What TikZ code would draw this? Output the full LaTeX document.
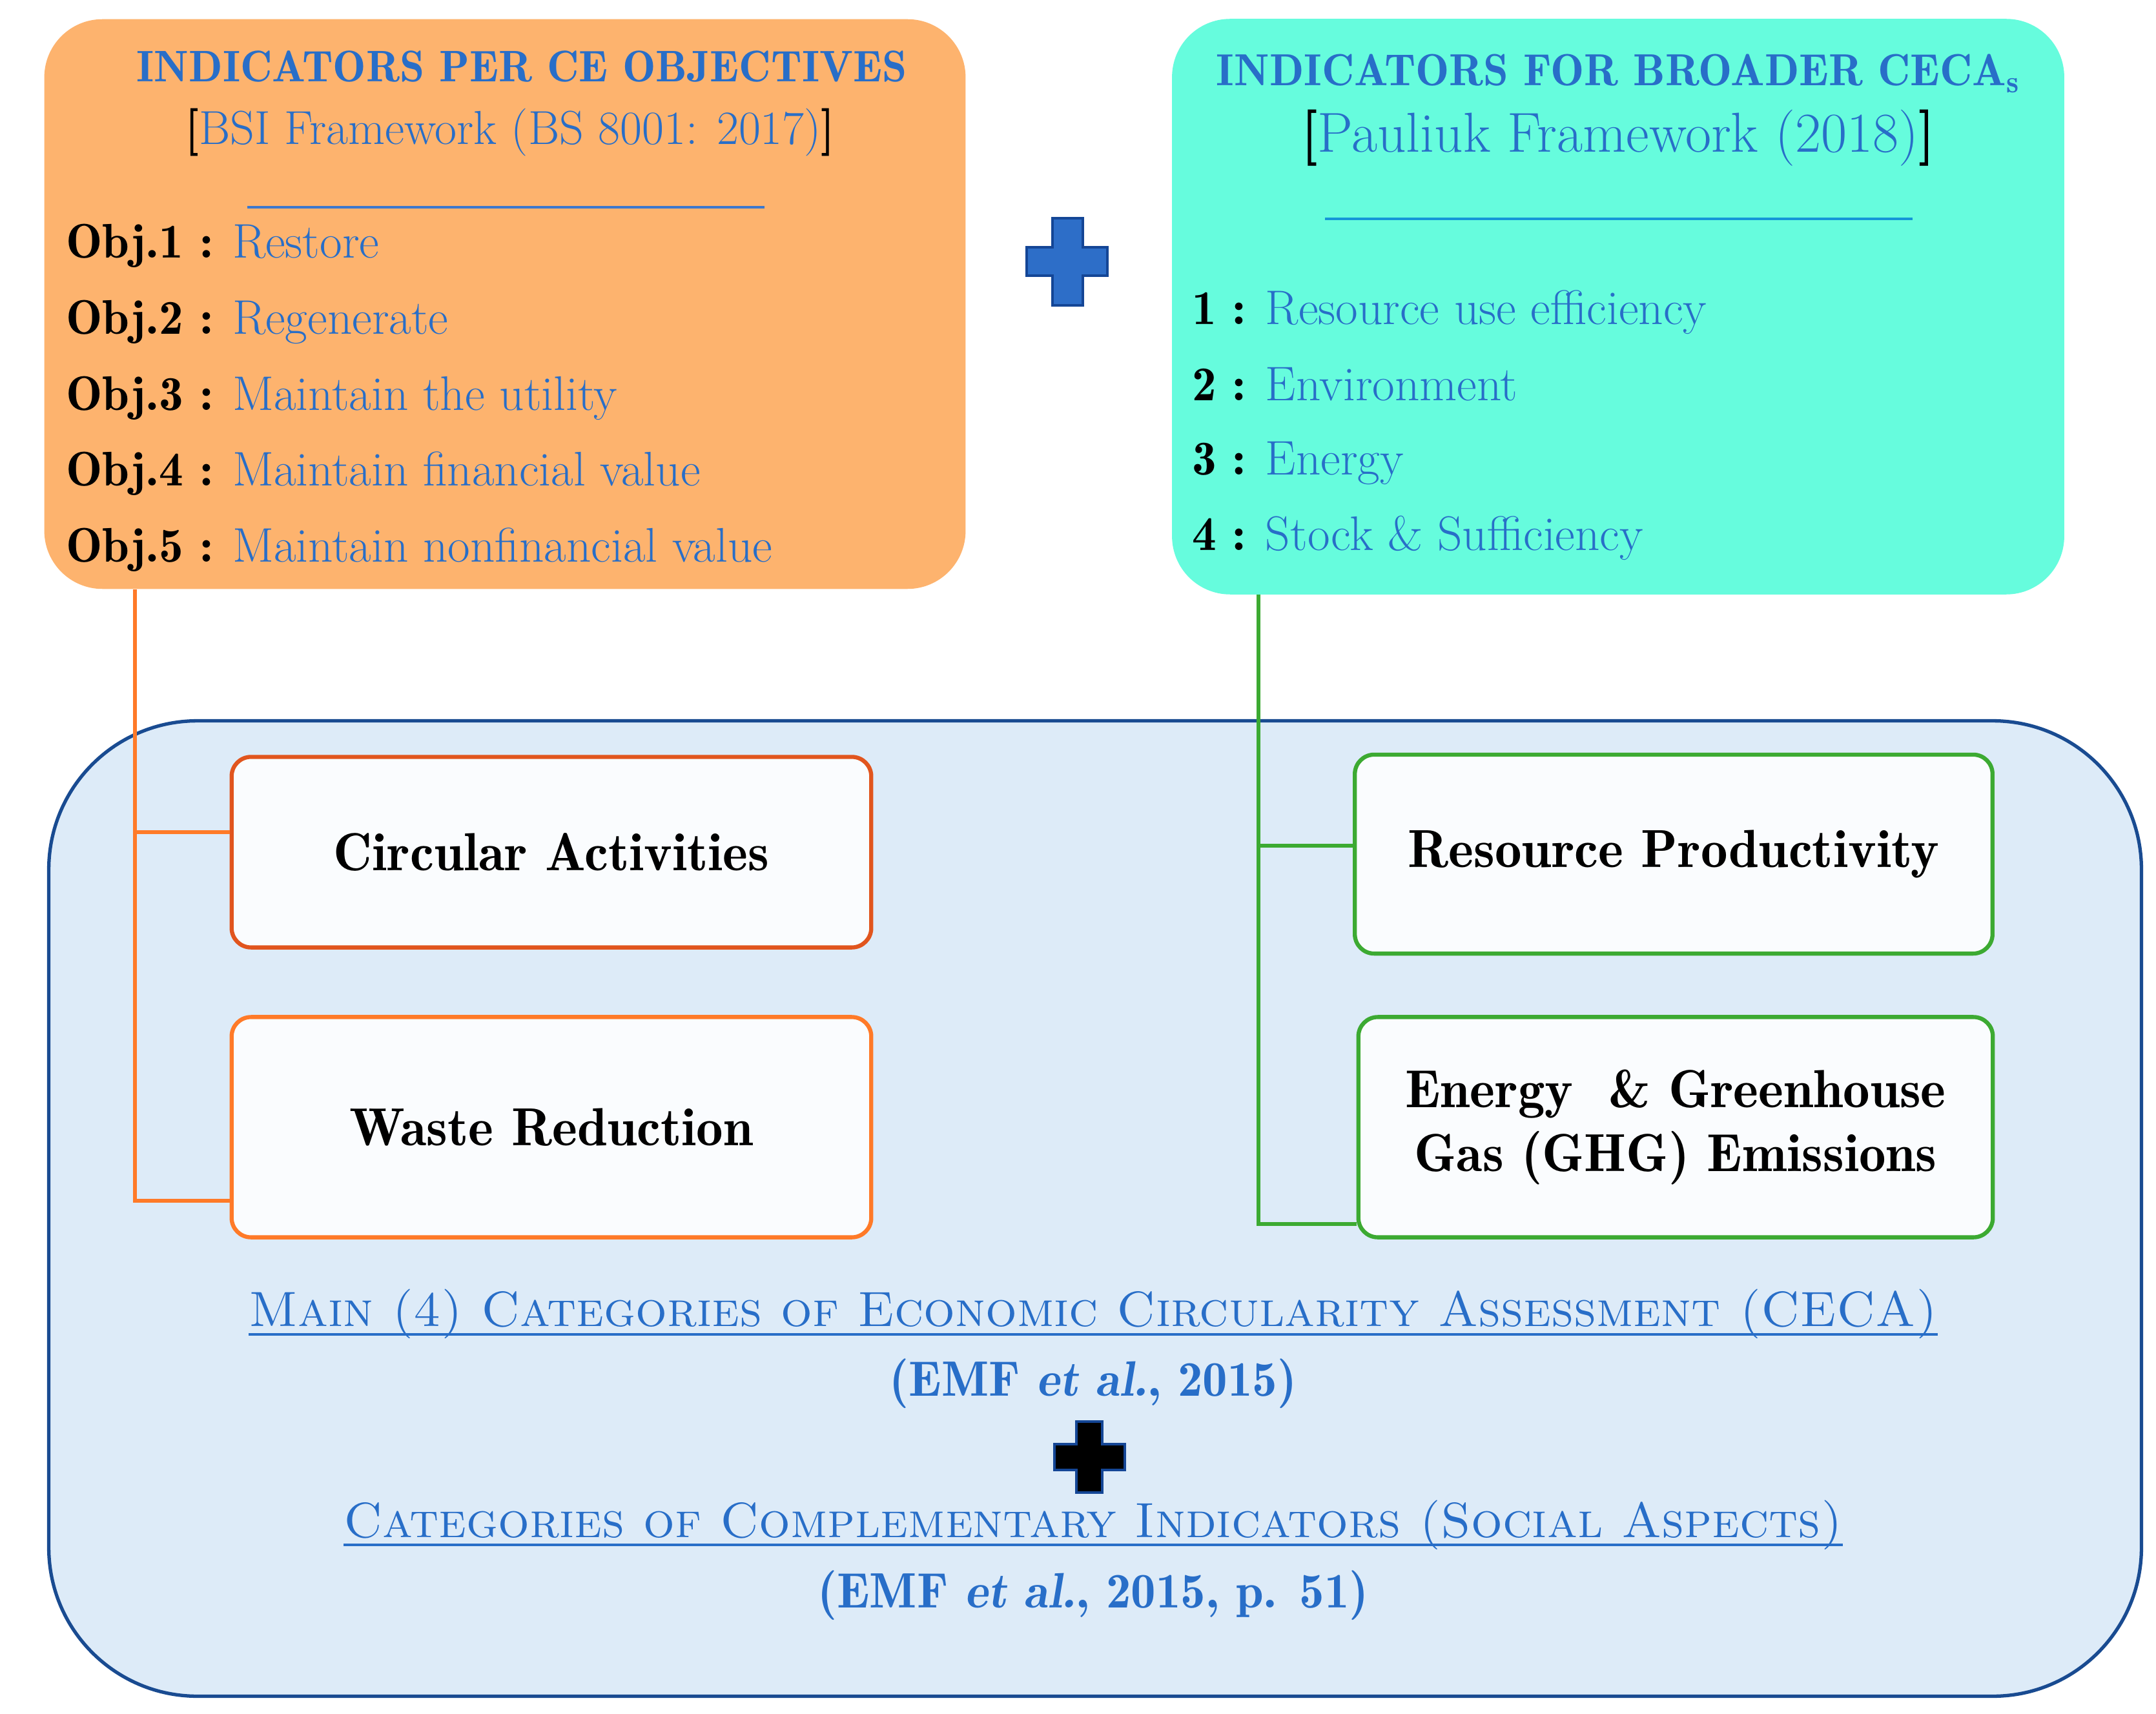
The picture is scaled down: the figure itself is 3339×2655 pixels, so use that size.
\documentclass[tikz,border=0pt]{standalone}
\renewcommand{\bfdefault}{b}
\definecolor{obfill}{RGB}{253,179,110}
\definecolor{tbfill}{RGB}{102,252,221}
\definecolor{txtblue}{RGB}{40,110,200}
\definecolor{rulblue}{RGB}{60,120,205}
\definecolor{rultea}{RGB}{20,150,215}
\definecolor{bigfill}{RGB}{221,235,248}
\definecolor{bigline}{RGB}{25,75,145}
\definecolor{redor}{RGB}{225,85,30}
\definecolor{orline}{RGB}{255,122,40}
\definecolor{grline}{RGB}{60,170,50}
\definecolor{plusblue}{RGB}{45,110,200}
\definecolor{plusedge}{RGB}{20,70,150}
\definecolor{innerfill}{RGB}{250,252,254}
\begin{document}
\begin{tikzpicture}[x=0.01cm,y=-0.01cm,
  txt/.style={inner sep=0pt,outer sep=0pt},
  topbox/.style={rounded corners=0.9cm,draw=none},
  inbox/.style={rounded corners=0.3cm,fill=innerfill,line width=1.8pt,minimum width=9.9cm},
  conn/.style={line width=1.6pt},
  fitem/.style={font=\fontsize{21.4}{25}\selectfont},
  fbox/.style={font=\fontsize{23.6}{28}\selectfont\bfseries},
  fsc/.style={font=\fontsize{21.8}{26}\selectfont\scshape},
  fref/.style={font=\fontsize{21.9}{26}\selectfont\bfseries},
]
\useasboundingbox (0,0) rectangle (3339,2655);
% top boxes
\node[topbox,fill=obfill,minimum width=14.26cm,minimum height=8.82cm] (ob) at (782,471) {};
\node[topbox,fill=tbfill,minimum width=13.81cm,minimum height=8.91cm] (tb) at (2506,475) {};
% big box
\node[draw=bigline,fill=bigfill,line width=1.5pt,rounded corners=2.3cm,minimum width=32.39cm,minimum height=15.10cm] (big) at (1696,1872) {};
% orange box text
\node[txt,font=\fontsize{19.5}{23}\selectfont\bfseries,anchor=base,text=txtblue] (ot1) at (808,127) {INDICATORS PER CE OBJECTIVES};
\node[txt,font=\fontsize{21}{25}\selectfont,anchor=base,text=txtblue] (ot2) at (790,224) {\textcolor{black}{\bfseries[}BSI Framework (BS 8001: 2017)\textcolor{black}{\bfseries]}};
\node[txt,fitem,anchor=base west,text=txtblue] (o1) at (102,400) {\textcolor{black}{\bfseries Obj.1 :} Restore};
\node[txt,fitem,anchor=base west,text=txtblue] (o2) at (102,518) {\textcolor{black}{\bfseries Obj.2 :} Regenerate};
\node[txt,fitem,anchor=base west,text=txtblue] (o3) at (102,636) {\textcolor{black}{\bfseries Obj.3 :} Maintain the utility};
\node[txt,fitem,anchor=base west,text=txtblue] (o4) at (102,752) {\textcolor{black}{\bfseries Obj.4 :} Maintain financial value};
\node[txt,fitem,anchor=base west,text=txtblue] (o5) at (102,870) {\textcolor{black}{\bfseries Obj.5 :} Maintain nonfinancial value};
\coordinate (orl) at (383,321);
\coordinate (orr) at (1184,321);
\draw[rulblue,line width=1.2pt] (orl) -- (orr);
% teal box text
\node[txt,font=\fontsize{19.8}{23}\selectfont\bfseries,anchor=base,text=txtblue] (tt1) at (2506,133) {INDICATORS FOR BROADER CECA\textsubscript{s}};
\node[txt,font=\fontsize{24.8}{28}\selectfont,anchor=base,text=txtblue] (tt2) at (2506,236) {\textcolor{black}{\bfseries[}Pauliuk Framework (2018)\textcolor{black}{\bfseries]}};
\coordinate (trl) at (2052,339);
\coordinate (trr) at (2962,339);
\draw[rultea,line width=1.2pt] (trl) -- (trr);
\node[txt,fitem,anchor=base west,text=txtblue] (t1) at (1846,503) {\textcolor{black}{\bfseries 1 :} Resource use efficiency};
\node[txt,fitem,anchor=base west,text=txtblue] (t2) at (1846,621) {\textcolor{black}{\bfseries 2 :} Environment};
\node[txt,fitem,anchor=base west,text=txtblue] (t3) at (1846,736) {\textcolor{black}{\bfseries 3 :} Energy};
\node[txt,fitem,anchor=base west,text=txtblue] (t4) at (1846,852) {\textcolor{black}{\bfseries 4 :} Stock \& Sufficiency};
% blue plus
\draw[fill=plusblue,draw=plusedge,line width=1pt] (1630,338) -- (1677,338) -- (1677,383) -- (1715,383) -- (1715,427) -- (1677,427) -- (1677,473) -- (1630,473) -- (1630,427) -- (1590,427) -- (1590,383) -- (1630,383) -- cycle;
% inner boxes
\node[inbox,draw=redor,minimum height=2.95cm,fbox,align=center] (ca) at (854,1320) {Circular Activities};
\node[inbox,draw=orline,minimum height=3.41cm,fbox,align=center] (wr) at (854,1746) {Waste Reduction};
\node[inbox,draw=grline,minimum width=9.87cm,minimum height=3.08cm,fbox,align=center] (rp) at (2592,1323) {Resource Productivity};
\node[inbox,draw=grline,minimum width=9.82cm,minimum height=3.41cm,fbox,align=center] (eg) at (2595,1746) {Energy\ \ \& Greenhouse\\Gas (GHG) Emissions};
% connectors
\coordinate (otrunk) at (209,0);
\coordinate (gtrunk) at (1949,0);
\draw[conn,orline] (ob.south -| otrunk) |- ([yshift=-1.14cm]wr.west);
\draw[conn,orline] ([yshift=0.31cm]ca.west -| otrunk) -- ([yshift=0.31cm]ca.west);
\draw[conn,grline] (tb.south -| gtrunk) |- ([yshift=-1.50cm]eg.west);
\draw[conn,grline] ([yshift=0.13cm]rp.west -| gtrunk) -- ([yshift=0.13cm]rp.west);
% bottom texts
\node[txt,fsc,anchor=base,text=txtblue] (m1) at (1693,2054) {Main (4) Categories of Economic Circularity Assessment (CECA)};
\draw[txtblue,line width=1.1pt] ([yshift=-0.13cm]m1.base west) -- ([yshift=-0.13cm]m1.base east);
\node[txt,fref,anchor=base,text=txtblue] (m2) at (1693,2162) {(EMF \textit{et al.}, 2015)};
\draw[fill=black,draw=plusedge,line width=1pt] (1667,2202) -- (1707,2202) -- (1707,2237) -- (1742,2237) -- (1742,2277) -- (1707,2277) -- (1707,2312) -- (1667,2312) -- (1667,2277) -- (1633,2277) -- (1633,2237) -- (1667,2237) -- cycle;
\node[txt,fsc,anchor=base,text=txtblue] (m3) at (1693,2381) {Categories of Complementary Indicators (Social Aspects)};
\draw[txtblue,line width=1.1pt] ([yshift=-0.12cm]m3.base west) -- ([yshift=-0.12cm]m3.base east);
\node[txt,fref,anchor=base,text=txtblue] (m4) at (1693,2490) {(EMF \textit{et al.}, 2015, p. 51)};
\end{tikzpicture}
\end{document}
